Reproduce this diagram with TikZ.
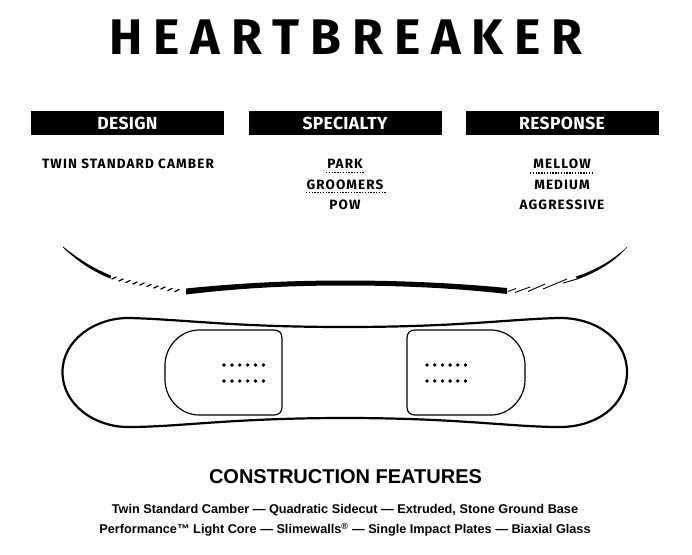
\documentclass[tikz,border=0pt]{standalone}
\usepackage{fontspec}
\setmainfont{Liberation Sans}
\newfontfamily\labelfont{Fira Sans}
\tikzset{
	banner/.style={fill=black, text=white, shape=rectangle, minimum width=193pt, minimum height=24pt, inner sep=0pt, font=\labelfont\fontsize{17.5}{18}\selectfont\bfseries\addfontfeature{LetterSpace=2}},
	pick/.style={text=black, inner sep=0pt, font=\labelfont\fontsize{13.5}{14}\selectfont\bfseries\addfontfeature{LetterSpace=8.3}},
	featureline/.style={text=black, inner sep=0pt, font=\fontsize{12.7}{14}\selectfont\bfseries},
	dotline/.style={line width=1.2pt, dash pattern=on 1.4pt off 1.4pt},
	outline/.style={line width=2.2pt},
	plate/.style={line width=1.2pt},
	hole/.style={fill=black, shape=circle, minimum size=3.8pt, inner sep=0pt},
}
\begin{document}
\begin{tikzpicture}[x=1pt, y=-1pt]
	\useasboundingbox (0,0) rectangle (692,554);

	\node[text=black, inner sep=0pt, font=\labelfont\fontsize{50}{52}\selectfont\bfseries\addfontfeature{LetterSpace=22}] (title) at (346,37.5) {HEARTBREAKER};

	\node[banner] (design) at (127.5,123) {DESIGN};
	\node[banner] (specialty) at (345,123) {SPECIALTY};
	\node[banner] (response) at (562,123) {RESPONSE};

	\node[pick] (twin) at (128,164) {TWIN STANDARD CAMBER};
	\node[pick] (park) at (345,164) {PARK};
	\node[pick] (groomers) at (345,185) {GROOMERS};
	\node[pick] (pow) at (345,205) {POW};
	\node[pick] (mellow) at (562,164) {MELLOW};
	\node[pick] (medium) at (562,185) {MEDIUM};
	\node[pick] (aggressive) at (562,205) {AGGRESSIVE};

	\draw[dotline] (326,172.5) -- (364,172.5);
	\draw[dotline] (306,192.5) -- (387,192.5);
	\draw[dotline] (530,173) -- (592,173);

	% side view
	\fill (63,246.5) .. controls (76,257) and (92,268) .. (111,275.5) -- (110.5,278.5) .. controls (91,271) and (75,259) .. (63,247.5) -- cycle;
	\fill (186,288.5) .. controls (240,283) and (290,280.5) .. (345,280.5) .. controls (400,280.5) and (455,283) .. (507,288) -- (507,294) .. controls (455,288) and (400,285.5) .. (345,285.5) .. controls (290,285.5) and (240,288) .. (186,294.5) -- cycle;
	\fill (627,247) .. controls (613,260) and (596,270) .. (576,276.5) -- (577,279.5) .. controls (598,272) and (615,261) .. (627,247.5) -- cycle;
	\foreach \hx/\hy in {114/278, 121/280, 128/281.5, 135/283, 142/284, 149/285.5, 156/287, 163/288, 170/289.5, 177/290.5}
		\draw[line width=1.2pt] (\hx-2.5,\hy+1.2) -- (\hx+2.5,\hy-1.2);
	\draw[line width=0.9pt] (508,291.5) -- (516,288.5);
	\draw[line width=0.9pt] (515,292.5) -- (530,287);
	\draw[line width=0.9pt] (528,291.5) -- (545,284);
	\draw[line width=0.9pt] (543,289) -- (567,279);
	\draw[line width=0.9pt] (563,283) -- (577,279);

	% top view
	\draw[outline] (62.5,372) .. controls (62.5,340) and (95,318) .. (128,318) .. controls (180,319) and (230,327) .. (345,327) .. controls (460,327) and (510,319) .. (560,318) .. controls (597,318) and (627,340) .. (627,372) .. controls (627,405) and (597,427) .. (560,427) .. controls (510,427) and (460,418) .. (345,418) .. controls (230,418) and (180,427) .. (128,427) .. controls (95,427) and (62.5,405) .. (62.5,372) -- cycle;

	\draw[plate] (199,330) -- (274,330) .. controls (279,330) and (282,333) .. (282,338) -- (282,407) .. controls (282,412) and (279,415) .. (274,415) -- (199,415) .. controls (180,415) and (165,398) .. (165,380) -- (165,365) .. controls (165,347) and (180,330) .. (199,330) -- cycle;
	\draw[plate] (491,330) -- (415,330) .. controls (410,330) and (407,333) .. (407,338) -- (407,407) .. controls (407,412) and (410,415) .. (415,415) -- (491,415) .. controls (510,415) and (525,398) .. (525,380) -- (525,365) .. controls (525,347) and (510,330) .. (491,330) -- cycle;

	\foreach \i in {0,...,5} {
		\node[hole] (l_a_\i) at (224+7.9*\i,365) {};
		\node[hole] (l_b_\i) at (224+7.9*\i,381) {};
		\node[hole] (r_a_\i) at (427+7.7*\i,365) {};
		\node[hole] (r_b_\i) at (427+7.7*\i,381) {};
	}

	\node[text=black, inner sep=0pt, font=\fontsize{20}{22}\selectfont\bfseries] (construction) at (345.5,476.5) {CONSTRUCTION FEATURES};
	\node[featureline] (line_1) at (345,510.5) {Twin Standard Camber — Quadratic Sidecut — Extruded, Stone Ground Base};
	\node[featureline] (line_2) at (345,529.5) {Performance™ Light Core — Slimewalls\textsuperscript{®} — Single Impact Plates — Biaxial Glass};
\end{tikzpicture}
\end{document}
